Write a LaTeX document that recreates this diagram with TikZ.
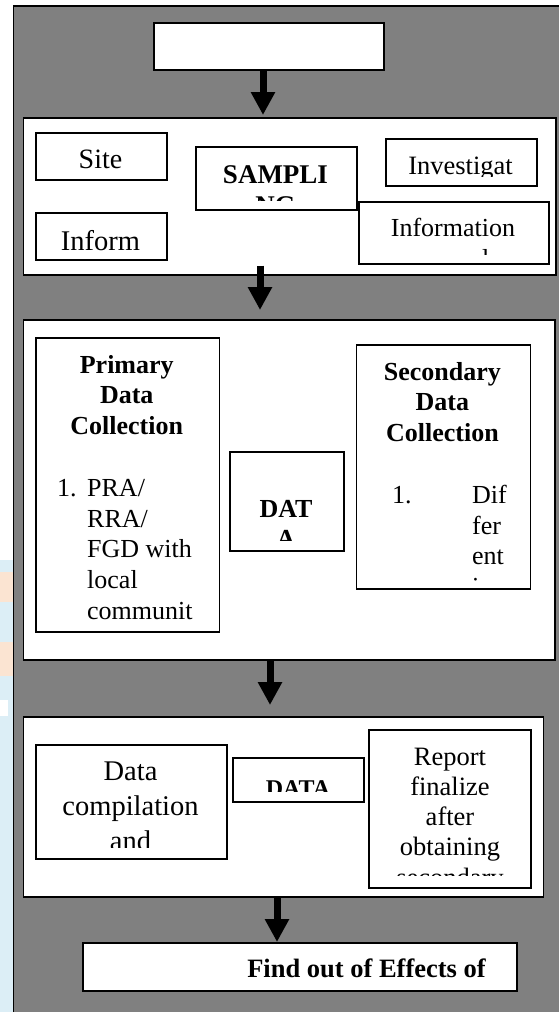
\documentclass[tikz,border=0pt]{standalone}
\usepackage{fontspec}
\setmainfont{Liberation Serif}
\usetikzlibrary{arrows.meta}
\definecolor{bggray}{HTML}{808080}
\definecolor{wmblue}{HTML}{DCEEF6}
\definecolor{wmorange}{HTML}{FBE4D2}
\begin{document}
\begin{tikzpicture}[x=1pt,y=-1pt,
  grp/.style={draw=black, line width=1.5pt, fill=white, rectangle, inner sep=0pt, anchor=north west},
  tb/.style={draw=black, line width=1.8pt, fill=white, rectangle, inner sep=0pt, anchor=north west},
  arr/.style={line width=7pt, -{Triangle[width=23pt,length=23pt]}},
  t/.style={inner sep=0pt, anchor=base, align=center},
  rm/.style={font=\fontsize{#1}{30.8}\selectfont},
  bf/.style={font=\bfseries\fontsize{#1}{30.8}\selectfont}
]
\useasboundingbox (0,0) rectangle (559,1012);
\clip (0,0) rectangle (559,1012);
% watermark strip at the left
\fill[wmblue] (0,560) rectangle (13,1012);
\fill[wmorange] (0,572) rectangle (13,602);
\fill[wmorange] (0,642) rectangle (13,676);
\fill[white] (0,700) rectangle (8,716);
% grey background
\draw[fill=bggray, line width=1.5pt] (13.5,6) rectangle (620,1060);

% ---------- top box
\node[tb, minimum width=230pt, minimum height=47pt] (top) at (153,22) {};

% ---------- sampling group (anchor=base of a multi-line node = last line)
\node[grp, minimum width=532.5pt, minimum height=157pt] (box2) at (22.5,117) {};
\node[tb, minimum width=131pt, minimum height=47pt] (site) at (35,132) {};
\node[tb, minimum width=161pt, minimum height=63pt] (samp) at (195,146) {};
\node[tb, minimum width=151pt, minimum height=47pt] (inv) at (385,138) {};
\node[tb, minimum width=190pt, minimum height=62pt] (info) at (358,201) {};
\node[tb, minimum width=131pt, minimum height=47pt] (inform) at (35,212) {};
\node[t, rm=28] (siteT) at (100.5,168) {Site};
\begin{scope}
  \clip (195,146) rectangle (356,200);
  \node[t, bf=27] (sampT) at (275.5,214) {SAMPLI\\NG};
\end{scope}
\begin{scope}
  \clip (385,138) rectangle (536,176);
  \node[t, rm=26.5] (invT) at (460.5,174) {Investigat};
\end{scope}
\begin{scope}
  \clip (358,201) rectangle (548,254);
  \node[t, rm=26] (infoT) at (453,236) {Information};
  \node[t, rm=26, anchor=base west] (infoT2) at (482,267) {l};
\end{scope}
\node[t, rm=28.5] (informT) at (100.5,250) {Inform};

% ---------- data collection group
\node[grp, minimum width=531.5pt, minimum height=340pt] (box3) at (22.5,319) {};
\node[tb, minimum width=183.5pt, minimum height=294pt] (prim) at (35,337) {};
\node[tb, minimum width=114pt, minimum height=99pt] (dat) at (229,451) {};
\node[tb, minimum width=174pt, minimum height=244pt] (sec) at (355.5,344) {};
\begin{scope}
  \clip (35,337) rectangle (218.5,623);
  \node[t, bf=26] (primH) at (126.75,434.6) {Primary\\Data\\Collection};
  \node[t, rm=26, anchor=base west] (primN) at (57,496.2) {1.};
  \node[t, rm=26, anchor=base west, align=left] (primL) at (87,619.4) {PRA/\\RRA/\\FGD with\\local\\communit};
\end{scope}
\begin{scope}
  \clip (229,451) rectangle (343,540);
  \node[t, bf=26] (datT) at (286,547.8) {DAT\\A};
\end{scope}
\begin{scope}
  \clip (355.5,344) rectangle (529.5,581);
  \node[t, bf=26] (secH) at (442.4,441.6) {Secondary\\Data\\Collection};
  \node[t, rm=26, anchor=base west] (secN) at (392,503.2) {1.};
  \node[t, rm=26, anchor=base west, align=left] (secL) at (472,595.6) {Dif\\fer\\ent\\i};
\end{scope}

% ---------- compilation group
\node[grp, minimum width=520pt, minimum height=180pt] (box4) at (22.5,716) {};
\node[tb, minimum width=191pt, minimum height=114pt] (comp) at (35,744) {};
\node[tb, minimum width=131pt, minimum height=44pt] (data) at (232,757) {};
\node[tb, minimum width=162pt, minimum height=158pt] (rep) at (368,729) {};
\begin{scope}
  \clip (35,744) rectangle (226,847);
  \node[t, font=\fontsize{28.5}{35}\selectfont] (compT) at (130.5,850) {Data\\compilation\\and};
\end{scope}
\begin{scope}
  \clip (232,757) rectangle (363,791);
  \node[t, bf=24] (dataT) at (298,796) {DATA};
\end{scope}
\begin{scope}
  \clip (368,729) rectangle (530,875.5);
  \node[t, font=\fontsize{26.5}{30.2}\selectfont] (repT) at (450,886) {Report\\finalize\\after\\obtaining\\secondary};
\end{scope}

% ---------- final box
\node[tb, minimum width=434pt, minimum height=48pt] (find) at (82,942) {};
\node[t, bf=26.5] (findT) at (366.5,977) {Find out of Effects of};

% ---------- arrows
\coordinate (a1x) at (263,0);
\coordinate (a2x) at (260,0);
\coordinate (a3x) at (270,0);
\coordinate (a4x) at (277,0);
\draw[arr, shorten >=2pt] (top.south -| a1x) -- (box2.north -| a1x);
\draw[arr, shorten <=-10pt, shorten >=9pt] (box2.south -| a2x) -- (box3.north -| a2x);
\draw[arr, shorten >=11pt] (box3.south -| a3x) -- (box4.north -| a3x);
\draw[arr] (box4.south -| a4x) -- (find.north -| a4x);
\end{tikzpicture}
\end{document}
